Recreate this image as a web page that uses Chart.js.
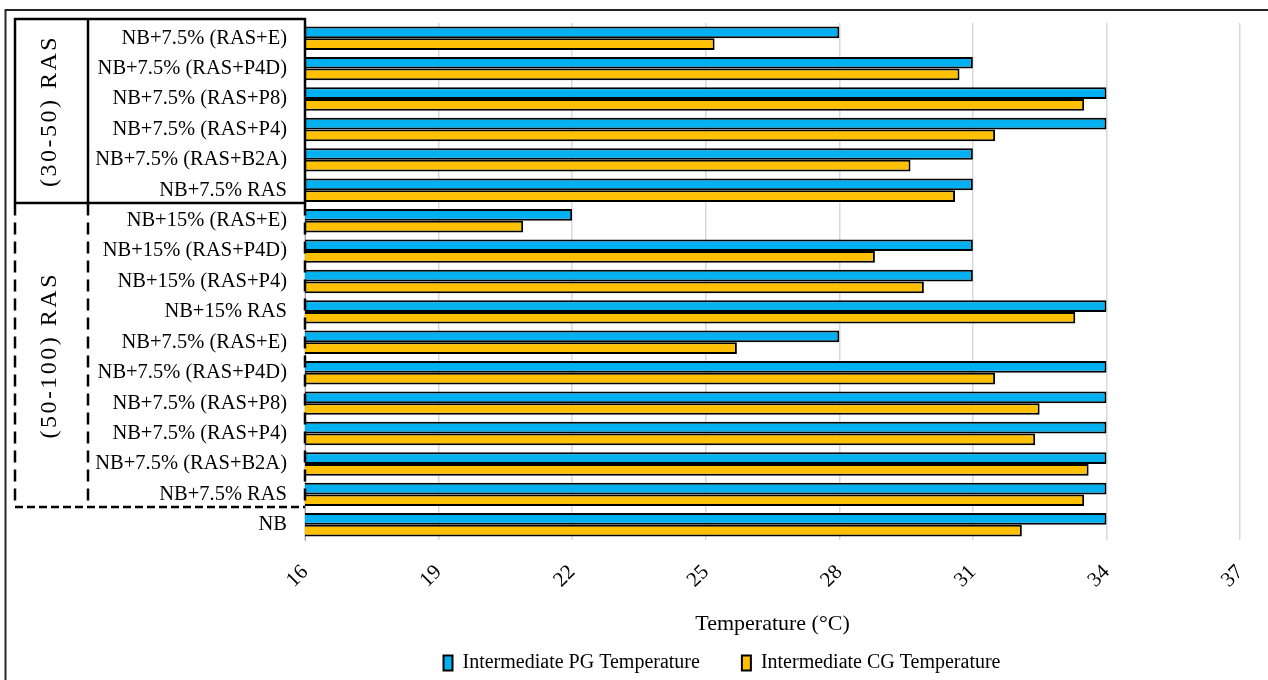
<!DOCTYPE html>
<html>
<head>
<meta charset="utf-8">
<title>Intermediate PG / CG temperature</title>
<script src="https://cdn.jsdelivr.net/npm/chart.js@4.4.1/dist/chart.umd.min.js"></script>
<style>
  html, body { margin: 0; padding: 0; background: #ffffff; }
  #wrap { width: 1268px; height: 680px; position: relative; }
</style>
</head>
<body>
<div id="wrap"><canvas id="tempChart"></canvas></div>
<script>
// categories, top to bottom as in the figure
const mixes = [
    "NB+7.5% (RAS+E)", "NB+7.5% (RAS+P4D)", "NB+7.5% (RAS+P8)", "NB+7.5% (RAS+P4)",
    "NB+7.5% (RAS+B2A)", "NB+7.5% RAS",
    "NB+15% (RAS+E)", "NB+15% (RAS+P4D)", "NB+15% (RAS+P4)", "NB+15% RAS",
    "NB+7.5% (RAS+E)", "NB+7.5% (RAS+P4D)", "NB+7.5% (RAS+P8)", "NB+7.5% (RAS+P4)",
    "NB+7.5% (RAS+B2A)", "NB+7.5% RAS",
    "NB"
];
const pgTemp = [28, 31, 34, 34, 31, 31, 22, 31, 31, 34, 28, 34, 34, 34, 34, 34, 34];
const cgTemp = [25.2, 30.7, 33.5, 31.5, 29.6, 30.6, 20.9, 28.8, 29.9, 33.3, 25.7, 31.5, 32.5, 32.4, 33.6, 33.5, 32.1];
const xTicks = [16, 19, 22, 25, 28, 31, 34, 37];

// RAS size groups drawn as boxes left of the labels
const groupNames = ["(30-50) RAS", "(50-100) RAS"];
const groupFirst = [0, 6];
const groupLast = [5, 15];
const groupDashed = [false, true];

const serif = "'Liberation Serif', 'Times New Roman', serif";
Chart.defaults.font.family = serif;
Chart.defaults.color = "#000000";

const groupBoxes = {
    id: "groupBoxes",
    afterLayout(chart) {
        // legend in the source is centred a bit right of the page centre
        const lg = chart.legend;
        if (lg) {
            lg.left = 204;
            lg.top += 3;
            lg.bottom += 3;
        }
    },
    afterDraw(chart) {
        const ctx = chart.ctx;
        const y = chart.scales.y;
        const area = chart.chartArea;
        const rowH = y.getPixelForValue(1) - y.getPixelForValue(0);
        const left = 15, split = 88, right = area.left;

        ctx.save();
        // outer frame of the figure
        ctx.strokeStyle = "#262626";
        ctx.lineWidth = 2;
        ctx.strokeRect(5.5, 10, chart.width + 20, chart.height + 20);

        ctx.strokeStyle = "#000000";
        ctx.lineWidth = 2.5;
        // dashed groups first, the solid one goes on top
        const order = groupNames.map((n, i) => i).sort((a, b) => groupDashed[b] - groupDashed[a]);
        order.forEach(i => {
            const top = y.getPixelForValue(groupFirst[i]) - rowH / 2 - (i === 0 ? 4 : 2);
            const bottom = y.getPixelForValue(groupLast[i]) + rowH / 2 - 2.5;
            if (groupDashed[i]) {
                ctx.setLineDash([8, 4]);
                ctx.beginPath();
                ctx.moveTo(left, bottom); ctx.lineTo(right, bottom);
                ctx.stroke();
                ctx.setLineDash([12, 7]);
                ctx.beginPath();
                ctx.moveTo(left, top); ctx.lineTo(left, bottom);
                ctx.moveTo(split, top); ctx.lineTo(split, bottom);
                ctx.moveTo(right, top); ctx.lineTo(right, bottom);
                ctx.stroke();
            } else {
                ctx.setLineDash([]);
                ctx.strokeRect(left, top, right - left, bottom - top);
                ctx.beginPath();
                ctx.moveTo(split, top); ctx.lineTo(split, bottom);
                ctx.stroke();
            }
            ctx.setLineDash([]);
            ctx.save();
            ctx.translate((left + split) / 2 - 2, (top + bottom) / 2);
            ctx.rotate(-Math.PI / 2);
            ctx.font = "24px " + serif;
            ctx.letterSpacing = "2.5px";
            ctx.fillStyle = "#000000";
            ctx.textAlign = "center";
            ctx.textBaseline = "middle";
            ctx.fillText(groupNames[i], 0, 0);
            ctx.restore();
        });
        ctx.restore();
    }
};

function loadTemperatureChart() {
    const canvas = document.getElementById("tempChart");
    if (!canvas) {
        console.error("no #tempChart canvas");
        return;
    }

    const data = {
        labels: mixes,
        datasets: [{
            label: "Intermediate PG Temperature",
            data: pgTemp,
            backgroundColor: "#00B0F0",
            borderColor: "#000000",
            borderWidth: 2,
            borderSkipped: false
        }, {
            label: "Intermediate CG Temperature",
            data: cgTemp,
            backgroundColor: "#FFC000",
            borderColor: "#000000",
            borderWidth: 2,
            borderSkipped: false
        }]
    };

    const config = {
        type: "bar",
        data: data,
        options: {
            indexAxis: "y",
            responsive: true,
            maintainAspectRatio: false,
            animation: false,
            datasets: {
                bar: { barPercentage: 1, categoryPercentage: 0.77 }
            },
            layout: {
                padding: { left: 0, right: 28, top: 23, bottom: 0 }
            },
            plugins: {
                tooltip: { enabled: false },
                legend: {
                    position: "bottom",
                    labels: {
                        boxWidth: 9,
                        boxHeight: 15,
                        padding: 42,
                        color: "#000000",
                        font: { size: 20, family: serif }
                    }
                }
            },
            scales: {
                x: {
                    type: "linear",
                    min: xTicks[0],
                    max: xTicks[xTicks.length - 1],
                    afterBuildTicks: scale => {
                        scale.ticks = xTicks.map(v => ({ value: v }));
                    },
                    afterFit: scale => {
                        scale.height = 68;
                        scale.paddingLeft = 0;
                        scale.paddingRight = 0;
                    },
                    ticks: {
                        minRotation: 45,
                        maxRotation: 45,
                        padding: 20,
                        color: "#000000",
                        font: { size: 21, family: serif }
                    },
                    grid: { color: "#d9d9d9", lineWidth: 1.5, drawTicks: false },
                    border: { display: false },
                    title: {
                        display: true,
                        text: "Temperature (°C)",
                        color: "#000000",
                        font: { size: 22, family: serif },
                        padding: { top: 0, bottom: -29 }
                    }
                },
                y: {
                    afterFit: scale => {
                        scale.width = 305;
                        scale.paddingTop = 0;
                        scale.paddingBottom = 0;
                    },
                    ticks: {
                        padding: 18,
                        autoSkip: false,
                        color: "#000000",
                        font: { size: 20.5, family: serif }
                    },
                    grid: { display: false, drawTicks: false },
                    border: { display: true, color: "#a6a6a6", width: 1 }
                }
            }
        },
        plugins: [groupBoxes]
    };

    new Chart(canvas, config);
}

loadTemperatureChart();
</script>
</body>
</html>
